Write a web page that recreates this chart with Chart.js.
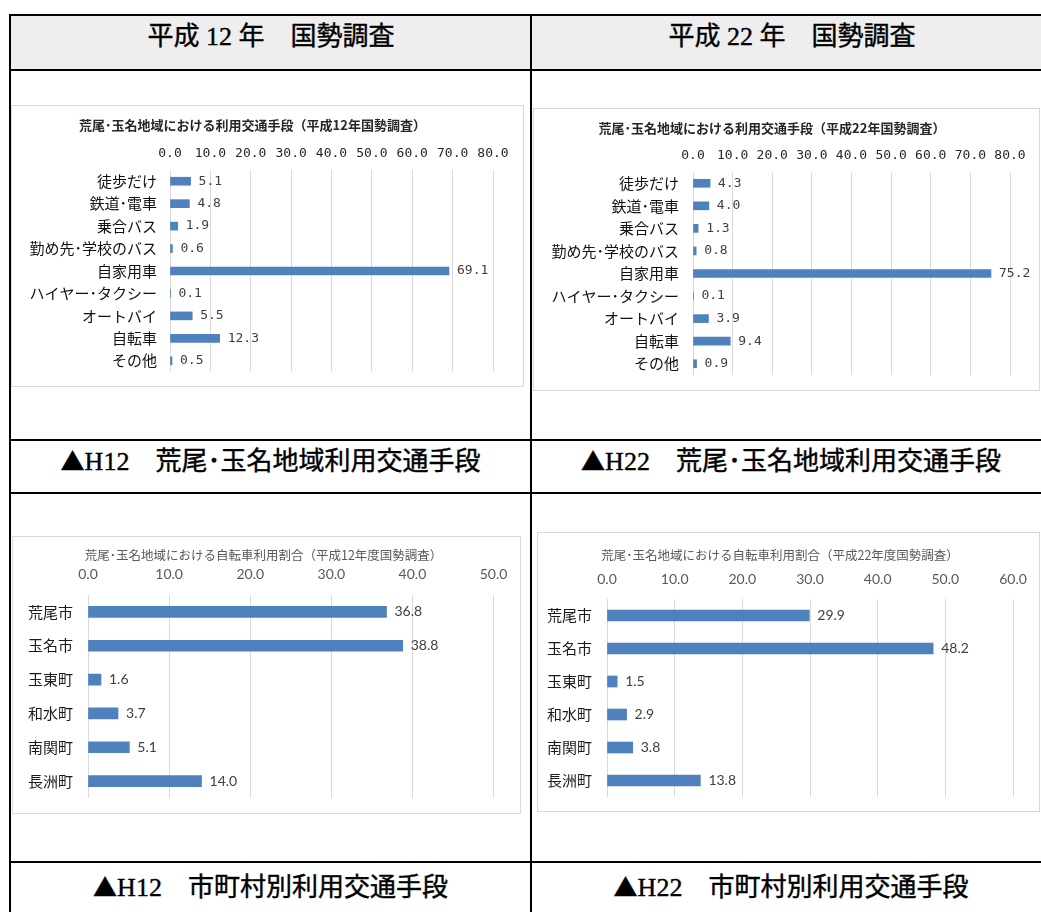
<!DOCTYPE html>
<html lang="ja">
<head>
<meta charset="utf-8">
<script src="https://cdn.jsdelivr.net/npm/chart.js@4"></script>
<style>
    body { margin: 0; width: 1041px; height: 912px; overflow: hidden; position: relative; background: #fff; }
    .hl { position: absolute; height: 2px; background: #000; left: 9px; width: 1040px; }
    .vl { position: absolute; width: 2px; background: #000; top: 14px; height: 898px; }
    .head { position: absolute; top: 16px; left: 11px; width: 1030px; height: 53px; background: #eeeeee; }
    .cell-text { position: absolute; text-align: center; white-space: nowrap; color: #000; }
    .hdr, .cap { font-family: "Liberation Serif", "Noto Sans CJK JP", serif; font-size: 26px; line-height: 30px; -webkit-text-stroke: 0.4px #000; }
    .tri { font-family: "Noto Sans CJK JP", sans-serif; font-size: 24px; }
    .box { position: absolute; border: 1px solid #d9d9d9; background: #fff; }
    .box canvas { display: block; }
</style>
</head>
<body>
<div class="head"></div>
<div class="hl" style="top:14px"></div>
<div class="hl" style="top:69px"></div>
<div class="hl" style="top:439px"></div>
<div class="hl" style="top:492px"></div>
<div class="hl" style="top:861px"></div>
<div class="vl" style="left:9px"></div>
<div class="vl" style="left:530px"></div>

<div class="cell-text hdr" style="left:10px; width:522px; top:22px">平成 12 年　国勢調査</div>
<div class="cell-text hdr" style="left:531px; width:522px; top:22px">平成 22 年　国勢調査</div>
<div class="cell-text cap" style="left:10px; width:521px; top:445px"><span class="tri">▲</span>H12　荒尾･玉名地域利用交通手段</div>
<div class="cell-text cap" style="left:531px; width:520px; top:445px"><span class="tri">▲</span>H22　荒尾･玉名地域利用交通手段</div>
<div class="cell-text cap" style="left:10px; width:521px; top:871px"><span class="tri">▲</span>H12　市町村別利用交通手段</div>
<div class="cell-text cap" style="left:531px; width:520px; top:871px"><span class="tri">▲</span>H22　市町村別利用交通手段</div>

<div class="box" style="left:11px; top:105px"><canvas id="modeH12" width="511" height="280"></canvas></div>
<div class="box" style="left:533px; top:108px"><canvas id="modeH22" width="505" height="281"></canvas></div>
<div class="box" style="left:12px; top:536px"><canvas id="bikeH12" width="507" height="276"></canvas></div>
<div class="box" style="left:537px; top:532px"><canvas id="bikeH22" width="501" height="278"></canvas></div>

<script>
const modeLabels = ['徒歩だけ', '鉄道･電車', '乗合バス', '勤め先･学校のバス', '自家用車', 'ハイヤー･タクシー', 'オートバイ', '自転車', 'その他'];
const modeH12 = [5.1, 4.8, 1.9, 0.6, 69.1, 0.1, 5.5, 12.3, 0.5];
const modeH22 = [4.3, 4.0, 1.3, 0.8, 75.2, 0.1, 3.9, 9.4, 0.9];

const townLabels = ['荒尾市', '玉名市', '玉東町', '和水町', '南関町', '長洲町'];
const bikeH12 = [36.8, 38.8, 1.6, 3.7, 5.1, 14.0];
const bikeH22 = [29.9, 48.2, 1.5, 2.9, 3.8, 13.8];

const modeTitleH12 = '荒尾･玉名地域における利用交通手段（平成12年国勢調査）';
const modeTitleH22 = '荒尾･玉名地域における利用交通手段（平成22年国勢調査）';
const bikeTitleH12 = '荒尾･玉名地域における自転車利用割合（平成12年度国勢調査）';
const bikeTitleH22 = '荒尾･玉名地域における自転車利用割合（平成22年度国勢調査）';

const BAR = '#4f81bd';
const MONO = '"DejaVu Sans Mono", "Noto Sans CJK JP", monospace';
const JP = '"Noto Sans CJK JP", sans-serif';
const LAT = 'Lato, "Noto Sans CJK JP", sans-serif';

// value text after each bar end
const valueLabels = {
    id: 'valueLabels',
    afterDatasetsDraw(chart, _args, opts) {
        const ctx = chart.ctx;
        const meta = chart.getDatasetMeta(0);
        const values = chart.data.datasets[0].data;
        ctx.save();
        ctx.font = opts.font;
        ctx.fillStyle = opts.color;
        ctx.textAlign = 'left';
        ctx.textBaseline = 'middle';
        meta.data.forEach((bar, i) => {
            ctx.fillText(values[i].toFixed(1), bar.x + opts.offset, bar.y);
        });
        ctx.restore();
    }
};

function makeChart(id, labels, values, title, g) {
    new Chart(document.getElementById(id), {
        type: 'bar',
        data: {
            labels: labels,
            datasets: [{
                data: values,
                backgroundColor: BAR,
                borderWidth: 0,
                barThickness: g.bar
            }]
        },
        plugins: [valueLabels],
        options: {
            indexAxis: 'y',
            responsive: false,
            animation: false,
            layout: {padding: {left: g.padLeft, right: g.padRight, top: 0, bottom: g.padBottom}},
            plugins: {
                legend: {display: false},
                tooltip: {enabled: false},
                title: {
                    display: true,
                    text: title,
                    color: g.titleColor,
                    font: {family: JP, size: g.titleSize, weight: g.titleWeight, lineHeight: 1.2},
                    padding: {top: g.titleTop, bottom: 0}
                },
                valueLabels: {font: g.valueFont, color: '#404040', offset: g.valueOffset}
            },
            scales: {
                x: {
                    position: 'top',
                    min: 0,
                    max: g.max,
                    ticks: {
                        stepSize: 10,
                        padding: g.tickPad,
                        color: g.tickColor,
                        font: {family: g.tickFamily, size: g.tickSize},
                        callback: v => v.toFixed(1)
                    },
                    grid: {color: '#d9d9d9', drawTicks: false},
                    border: {display: false},
                    afterFit: scale => { scale.height = g.axisHeight; }
                },
                y: {
                    ticks: {
                        color: g.labelColor,
                        padding: g.labelPad,
                        crossAlign: g.labelAlign,
                        font: {family: JP, size: g.labelSize}
                    },
                    grid: {display: false, drawTicks: false},
                    border: {display: false},
                    afterFit: scale => {
                        scale.width = g.labelWidth;
                        // keep the plot area full height
                        scale.paddingTop = 0;
                        scale.paddingBottom = 0;
                    }
                }
            }
        }
    });
}

makeChart('modeH12', modeLabels, modeH12, modeTitleH12, {
    bar: 8, max: 80, padLeft: 0, padRight: 30, padBottom: 14,
    titleTop: 11.2, titleSize: 13, titleColor: '#262626', titleWeight: 'bold',
    axisHeight: 37.2, tickPad: 9, tickColor: '#262626', tickFamily: MONO, tickSize: 13,
    labelWidth: 158, labelPad: 13, labelAlign: 'near', labelSize: 15, labelColor: '#111',
    valueFont: '13px ' + MONO, valueOffset: 8
});

makeChart('modeH22', modeLabels, modeH22, modeTitleH22, {
    bar: 8, max: 80, padLeft: 0, padRight: 29, padBottom: 15,
    titleTop: 11.2, titleSize: 13, titleColor: '#262626', titleWeight: 'bold',
    axisHeight: 36.2, tickPad: 9, tickColor: '#262626', tickFamily: MONO, tickSize: 13,
    labelWidth: 159, labelPad: 14, labelAlign: 'near', labelSize: 15, labelColor: '#111',
    valueFont: '13px ' + MONO, valueOffset: 8
});

makeChart('bikeH12', townLabels, bikeH12, bikeTitleH12, {
    bar: 11, max: 50, padLeft: 15, padRight: 21, padBottom: 15,
    titleTop: 10.5, titleSize: 12.5, titleColor: '#595959', titleWeight: 'normal',
    axisHeight: 32.5, tickPad: 12.6, tickColor: '#595959', tickFamily: LAT, tickSize: 14,
    labelWidth: 60, labelPad: 10, labelAlign: 'far', labelSize: 15, labelColor: '#1a1a1a',
    valueFont: '14px ' + LAT, valueOffset: 8
});

makeChart('bikeH22', townLabels, bikeH22, bikeTitleH22, {
    bar: 11, max: 60, padLeft: 9, padRight: 26, padBottom: 14,
    titleTop: 14.5, titleSize: 12.5, titleColor: '#595959', titleWeight: 'normal',
    axisHeight: 36.5, tickPad: 11.6, tickColor: '#595959', tickFamily: LAT, tickSize: 14,
    labelWidth: 60, labelPad: 10, labelAlign: 'far', labelSize: 15, labelColor: '#1a1a1a',
    valueFont: '14px ' + LAT, valueOffset: 8
});
</script>
</body>
</html>
